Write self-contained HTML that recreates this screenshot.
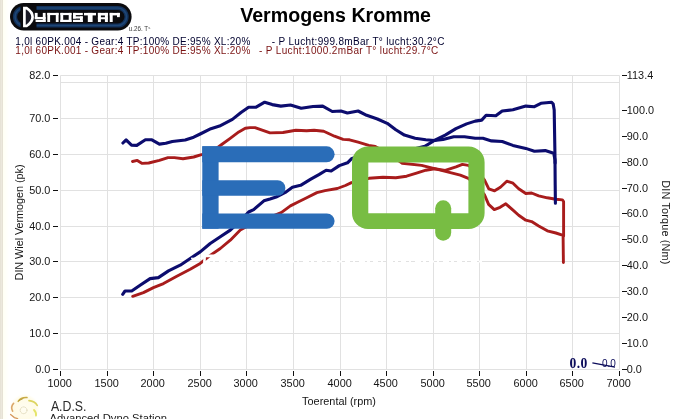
<!DOCTYPE html>
<html><head><meta charset="utf-8"><style>
html,body{margin:0;padding:0;background:#fff;}
body{width:687px;height:419px;overflow:hidden;position:relative;font-family:"Liberation Sans",sans-serif;}
svg{position:absolute;left:0;top:0;will-change:transform;}
.t{font-family:"Liberation Sans",sans-serif;font-size:10.9px;fill:#151515;}
</style></head><body>
<svg width="687" height="419" viewBox="0 0 687 419">
<defs>
<linearGradient id="ls" x1="0" x2="1" y1="0" y2="0"><stop offset="0" stop-color="#fffff3"/><stop offset="1" stop-color="#ffffff"/></linearGradient>
</defs>
<rect x="0" y="0" width="687" height="419" fill="#fff"/>
<rect x="0" y="0" width="1" height="419" fill="#e7e3d6"/><rect x="1" y="0" width="1" height="419" fill="#ece8dd"/><rect x="2" y="0" width="1" height="419" fill="#e6e2d5"/><rect x="3" y="0" width="6" height="419" fill="url(#ls)"/>
<!-- grid -->
<line x1="60.5" y1="75.5" x2="60.5" y2="369.5" stroke="#e1e1e1" stroke-width="1"/><line x1="107.5" y1="75.5" x2="107.5" y2="369.5" stroke="#e1e1e1" stroke-width="1"/><line x1="153.5" y1="75.5" x2="153.5" y2="369.5" stroke="#e1e1e1" stroke-width="1"/><line x1="200.5" y1="75.5" x2="200.5" y2="369.5" stroke="#e1e1e1" stroke-width="1"/><line x1="246.5" y1="75.5" x2="246.5" y2="369.5" stroke="#e1e1e1" stroke-width="1"/><line x1="293.5" y1="75.5" x2="293.5" y2="369.5" stroke="#e1e1e1" stroke-width="1"/><line x1="340.5" y1="75.5" x2="340.5" y2="369.5" stroke="#e1e1e1" stroke-width="1"/><line x1="386.5" y1="75.5" x2="386.5" y2="369.5" stroke="#e1e1e1" stroke-width="1"/><line x1="433.5" y1="75.5" x2="433.5" y2="369.5" stroke="#e1e1e1" stroke-width="1"/><line x1="479.5" y1="75.5" x2="479.5" y2="369.5" stroke="#e1e1e1" stroke-width="1"/><line x1="526.5" y1="75.5" x2="526.5" y2="369.5" stroke="#e1e1e1" stroke-width="1"/><line x1="572.5" y1="75.5" x2="572.5" y2="369.5" stroke="#e1e1e1" stroke-width="1"/><line x1="619.5" y1="75.5" x2="619.5" y2="369.5" stroke="#e1e1e1" stroke-width="1"/><line x1="60.5" y1="369.5" x2="619.5" y2="369.5" stroke="#e1e1e1" stroke-width="1"/><line x1="60.5" y1="333.5" x2="619.5" y2="333.5" stroke="#e1e1e1" stroke-width="1"/><line x1="60.5" y1="297.5" x2="619.5" y2="297.5" stroke="#e1e1e1" stroke-width="1"/><line x1="60.5" y1="261.5" x2="619.5" y2="261.5" stroke="#e1e1e1" stroke-width="1"/><line x1="60.5" y1="226.5" x2="619.5" y2="226.5" stroke="#e1e1e1" stroke-width="1"/><line x1="60.5" y1="190.5" x2="619.5" y2="190.5" stroke="#e1e1e1" stroke-width="1"/><line x1="60.5" y1="154.5" x2="619.5" y2="154.5" stroke="#e1e1e1" stroke-width="1"/><line x1="60.5" y1="118.5" x2="619.5" y2="118.5" stroke="#e1e1e1" stroke-width="1"/><line x1="60.5" y1="82.5" x2="619.5" y2="82.5" stroke="#e1e1e1" stroke-width="1"/><line x1="60.5" y1="75.5" x2="619.5" y2="75.5" stroke="#e1e1e1" stroke-width="1"/>
<!-- white watermark dashes over the 30 gridline -->
<g stroke="#fff" stroke-width="2">
<line x1="205" y1="261.5" x2="485" y2="261.5" stroke-dasharray="5 3 2 4 6 2 3 3"/>
</g>
<!-- curves -->
<polyline points="132.5,161.5 137.3,160.4 142.2,163.4 148.7,163.0 159.4,160.4 168.0,157.6 174.4,157.6 183.0,158.7 193.7,157.0 202.3,154.4 213.1,150.8 221.7,144.5 230.2,138.3 238.8,131.9 245.3,128.2 250.0,127.6 255.0,127.6 270.0,132.9 283.0,132.5 295.8,130.2 306.6,130.8 314.1,130.2 323.7,131.2 334.5,136.2 343.1,139.4 349.5,139.8 358.1,142.2 368.8,145.4 375.3,146.5 385.0,152.0 395.0,158.0 402.3,163.3 421.6,165.4 434.5,168.7 447.4,171.9 460.3,175.1 468.4,178.3 476.0,185.0 484.3,194.4 488.6,204.4 494.3,209.6 500.1,207.3 505.8,203.8 513.0,210.1 518.7,215.3 525.8,220.2 531.6,221.6 538.7,225.9 547.3,230.8 555.9,233.0 563.1,235.3 563.4,262.5" fill="none" stroke="#a81c1c" stroke-width="2.9" stroke-linejoin="round" stroke-linecap="round"/>
<polyline points="132.7,296.3 143.4,292.6 153.4,287.6 163.5,283.6 176.8,276.2 190.2,269.2 200.2,263.4 210.2,255.4 220.3,248.5 230.3,240.2 240.3,230.1 255.0,222.0 270.0,217.0 281.2,212.6 290.4,205.9 298.6,201.8 306.7,197.7 316.9,192.6 325.0,190.6 337.3,188.5 345.4,185.5 351.5,182.6 369.0,178.3 383.0,177.2 395.8,177.7 406.6,176.2 417.3,172.9 425.9,170.2 434.5,168.7 445.2,170.4 456.0,166.9 462.4,164.4 468.4,165.4 476.0,170.0 484.3,179.6 488.8,188.8 494.6,190.8 500.4,187.2 506.8,181.2 513.0,183.2 518.7,188.7 525.8,193.5 531.6,193.0 538.7,195.8 547.3,197.8 555.9,199.3 562.4,199.9 563.6,201.5 563.6,235.9" fill="none" stroke="#a81c1c" stroke-width="2.9" stroke-linejoin="round" stroke-linecap="round"/>
<polyline points="122.9,143.0 126.1,139.8 131.5,145.2 136.8,145.4 145.4,139.8 151.9,139.8 159.4,144.1 165.8,143.3 172.3,141.5 185.2,140.0 193.7,137.2 200.2,134.0 210.9,128.7 219.5,126.1 232.4,119.4 241.0,112.5 248.6,107.2 256.1,107.2 264.7,102.2 272.2,104.6 280.8,106.1 290.5,105.0 301.2,108.3 313.0,106.5 322.7,106.1 332.3,111.5 340.9,111.0 347.4,113.0 358.1,111.0 366.7,115.3 377.4,119.0 387.2,123.3 395.8,129.7 404.4,135.1 415.1,138.3 425.8,139.8 434.4,140.5 443.0,139.4 453.7,136.8 464.5,136.8 475.2,138.3 482.9,138.3 491.5,140.9 502.2,141.5 512.9,145.4 525.8,148.4 534.4,151.2 545.2,150.6 553.7,153.3 555.0,160.0 555.2,185.0 555.4,203.2" fill="none" stroke="#0c0c6e" stroke-width="3.1" stroke-linejoin="round" stroke-linecap="round"/>
<polyline points="122.7,294.3 125.0,291.0 131.7,291.0 140.1,285.3 150.1,278.6 158.4,277.6 168.5,270.9 180.2,265.2 190.2,258.5 200.2,251.9 210.2,243.5 220.3,236.8 230.3,230.1 240.0,221.0 248.6,212.0 253.7,209.6 263.9,200.8 270.0,199.0 276.1,197.0 285.3,192.4 292.4,187.3 300.6,185.3 310.8,179.2 318.9,174.6 326.1,170.2 331.2,171.0 339.3,165.6 347.5,162.8 351.4,158.8 365.0,154.0 380.0,152.0 395.0,151.0 410.0,150.0 424.8,146.3 434.4,140.5 445.2,135.1 455.9,128.7 466.6,123.9 475.2,121.1 481.7,120.1 486.1,115.3 495.8,115.8 502.2,111.0 512.9,109.8 525.8,106.1 534.4,106.7 540.9,103.3 551.6,102.2 553.2,104.0 554.2,110.0 554.7,140.0 555.1,163.0" fill="none" stroke="#0c0c6e" stroke-width="3.1" stroke-linejoin="round" stroke-linecap="round"/>
<!-- white watermark bits over curves -->
<g stroke="#fff" fill="none"><line x1="204.7" y1="254.5" x2="204.3" y2="265" stroke-width="2.6"/><line x1="204" y1="255.9" x2="216" y2="255.9" stroke-width="2.8"/><line x1="191" y1="258.3" x2="203" y2="258.3" stroke-width="1.2"/></g>
<!-- EQ logo -->
<g fill="#2a6db8">
<rect x="202.3" y="146.3" width="16.3" height="82.4"/>
<path d="M202.3 146.3H326.6a8 8 0 0 1 0 16H202.3z"/>
<path d="M202.3 180.2H277.6a7.8 7.8 0 0 1 0 15.6H202.3z"/>
<path d="M202.3 213.4H326.9a7.7 7.7 0 0 1 0 15.4H202.3z"/>
</g>
<g>
<path fill="#78bd43" fill-rule="evenodd" d="M368 146.4H468.6a16 16 0 0 1 16 16V213a16 16 0 0 1 -16 16H368a16 16 0 0 1 -16 -16V162.4a16 16 0 0 1 16 -16zM368.3 162.4V213.2H468.4V162.4z"/>
<rect x="435.2" y="200.3" width="16" height="40.4" rx="8" ry="8" fill="#78bd43"/>
</g>
<!-- axis labels -->
<line x1="60.5" y1="371" x2="60.5" y2="376" stroke="#111" stroke-width="1"/><text transform="translate(59.65,387) scale(1,1.07)" text-anchor="middle" class="t">1000</text><line x1="107.5" y1="371" x2="107.5" y2="376" stroke="#111" stroke-width="1"/><text transform="translate(106.65,387) scale(1,1.07)" text-anchor="middle" class="t">1500</text><line x1="153.5" y1="371" x2="153.5" y2="376" stroke="#111" stroke-width="1"/><text transform="translate(152.65,387) scale(1,1.07)" text-anchor="middle" class="t">2000</text><line x1="200.5" y1="371" x2="200.5" y2="376" stroke="#111" stroke-width="1"/><text transform="translate(199.65,387) scale(1,1.07)" text-anchor="middle" class="t">2500</text><line x1="246.5" y1="371" x2="246.5" y2="376" stroke="#111" stroke-width="1"/><text transform="translate(245.65,387) scale(1,1.07)" text-anchor="middle" class="t">3000</text><line x1="293.5" y1="371" x2="293.5" y2="376" stroke="#111" stroke-width="1"/><text transform="translate(292.65,387) scale(1,1.07)" text-anchor="middle" class="t">3500</text><line x1="340.5" y1="371" x2="340.5" y2="376" stroke="#111" stroke-width="1"/><text transform="translate(339.65,387) scale(1,1.07)" text-anchor="middle" class="t">4000</text><line x1="386.5" y1="371" x2="386.5" y2="376" stroke="#111" stroke-width="1"/><text transform="translate(385.65,387) scale(1,1.07)" text-anchor="middle" class="t">4500</text><line x1="433.5" y1="371" x2="433.5" y2="376" stroke="#111" stroke-width="1"/><text transform="translate(432.65,387) scale(1,1.07)" text-anchor="middle" class="t">5000</text><line x1="479.5" y1="371" x2="479.5" y2="376" stroke="#111" stroke-width="1"/><text transform="translate(478.65,387) scale(1,1.07)" text-anchor="middle" class="t">5500</text><line x1="526.5" y1="371" x2="526.5" y2="376" stroke="#111" stroke-width="1"/><text transform="translate(525.65,387) scale(1,1.07)" text-anchor="middle" class="t">6000</text><line x1="572.5" y1="371" x2="572.5" y2="376" stroke="#111" stroke-width="1"/><text transform="translate(571.65,387) scale(1,1.07)" text-anchor="middle" class="t">6500</text><line x1="619.5" y1="371" x2="619.5" y2="376" stroke="#111" stroke-width="1"/><text transform="translate(618.65,387) scale(1,1.07)" text-anchor="middle" class="t">7000</text><line x1="53" y1="369.5" x2="58" y2="369.5" stroke="#111" stroke-width="1"/><text transform="translate(50.4,373.0) scale(1,1.07)" text-anchor="end" class="t">0.0</text><line x1="53" y1="333.5" x2="58" y2="333.5" stroke="#111" stroke-width="1"/><text transform="translate(50.4,337.0) scale(1,1.07)" text-anchor="end" class="t">10.0</text><line x1="53" y1="297.5" x2="58" y2="297.5" stroke="#111" stroke-width="1"/><text transform="translate(50.4,301.0) scale(1,1.07)" text-anchor="end" class="t">20.0</text><line x1="53" y1="261.5" x2="58" y2="261.5" stroke="#111" stroke-width="1"/><text transform="translate(50.4,265.0) scale(1,1.07)" text-anchor="end" class="t">30.0</text><line x1="53" y1="226.5" x2="58" y2="226.5" stroke="#111" stroke-width="1"/><text transform="translate(50.4,230.0) scale(1,1.07)" text-anchor="end" class="t">40.0</text><line x1="53" y1="190.5" x2="58" y2="190.5" stroke="#111" stroke-width="1"/><text transform="translate(50.4,194.0) scale(1,1.07)" text-anchor="end" class="t">50.0</text><line x1="53" y1="154.5" x2="58" y2="154.5" stroke="#111" stroke-width="1"/><text transform="translate(50.4,158.0) scale(1,1.07)" text-anchor="end" class="t">60.0</text><line x1="53" y1="118.5" x2="58" y2="118.5" stroke="#111" stroke-width="1"/><text transform="translate(50.4,122.0) scale(1,1.07)" text-anchor="end" class="t">70.0</text><line x1="53" y1="75.5" x2="58" y2="75.5" stroke="#111" stroke-width="1"/><text transform="translate(50.4,79.0) scale(1,1.07)" text-anchor="end" class="t">82.0</text><line x1="622" y1="369.5" x2="627" y2="369.5" stroke="#111" stroke-width="1"/><text transform="translate(626.8,373.0) scale(1,1.07)" class="t">0.0</text><line x1="622" y1="343.5" x2="627" y2="343.5" stroke="#111" stroke-width="1"/><text transform="translate(626.8,347.0) scale(1,1.07)" class="t">10.0</text><line x1="622" y1="317.5" x2="627" y2="317.5" stroke="#111" stroke-width="1"/><text transform="translate(626.8,321.0) scale(1,1.07)" class="t">20.0</text><line x1="622" y1="291.5" x2="627" y2="291.5" stroke="#111" stroke-width="1"/><text transform="translate(626.8,295.0) scale(1,1.07)" class="t">30.0</text><line x1="622" y1="265.5" x2="627" y2="265.5" stroke="#111" stroke-width="1"/><text transform="translate(626.8,269.0) scale(1,1.07)" class="t">40.0</text><line x1="622" y1="239.5" x2="627" y2="239.5" stroke="#111" stroke-width="1"/><text transform="translate(626.8,243.0) scale(1,1.07)" class="t">50.0</text><line x1="622" y1="213.5" x2="627" y2="213.5" stroke="#111" stroke-width="1"/><text transform="translate(626.8,217.0) scale(1,1.07)" class="t">60.0</text><line x1="622" y1="188.5" x2="627" y2="188.5" stroke="#111" stroke-width="1"/><text transform="translate(626.8,192.0) scale(1,1.07)" class="t">70.0</text><line x1="622" y1="162.5" x2="627" y2="162.5" stroke="#111" stroke-width="1"/><text transform="translate(626.8,166.0) scale(1,1.07)" class="t">80.0</text><line x1="622" y1="136.5" x2="627" y2="136.5" stroke="#111" stroke-width="1"/><text transform="translate(626.8,140.0) scale(1,1.07)" class="t">90.0</text><line x1="622" y1="110.5" x2="627" y2="110.5" stroke="#111" stroke-width="1"/><text transform="translate(626.8,114.0) scale(1,1.07)" class="t">100.0</text><line x1="622" y1="75.5" x2="627" y2="75.5" stroke="#111" stroke-width="1"/><text transform="translate(626.8,79.0) scale(1,1.07)" class="t">113.4</text>
<text x="339" y="404.5" text-anchor="middle" class="t">Toerental (rpm)</text>
<text transform="translate(22.7,280.4) rotate(-90)" textLength="116" lengthAdjust="spacing" class="t">DIN Wiel Vermogen (pk)</text>
<text transform="translate(661.8,180.2) rotate(90)" textLength="84.3" lengthAdjust="spacing" class="t">DIN Torque (Nm)</text>
<!-- title -->
<text x="240.2" y="21.7" textLength="190.8" lengthAdjust="spacingAndGlyphs" style="font-family:'Liberation Sans',sans-serif;font-weight:bold;font-size:20px;fill:#000">Vermogens Kromme</text>
<!-- legend lines -->
<g style="font-family:'Liberation Sans',sans-serif;font-size:10px;fill:#00002e">
<text x="15.3" y="44.9" textLength="235" lengthAdjust="spacing">1,0l 60PK.004 - Gear:4 TP:100% DE:95% XL:20%</text>
<text x="271.8" y="44.9" textLength="172.6" lengthAdjust="spacing">- P Lucht:999.8mBar T° lucht:30.2°C</text>
</g>
<g style="font-family:'Liberation Sans',sans-serif;font-size:10px;fill:#7a1212">
<text x="15.3" y="53.9" textLength="235" lengthAdjust="spacing">1,0l 60PK.001 - Gear:4 TP:100% DE:95% XL:20%</text>
<text x="259" y="53.9" textLength="179.2" lengthAdjust="spacing">- P Lucht:1000.2mBar T° lucht:29.7°C</text>
</g>
<!-- Dynostar logo -->
<g id="dyno">
<rect x="10" y="3" width="121.6" height="27.5" rx="13.75" fill="#0b0b0e"/>
<rect x="15" y="8" width="111.6" height="17.5" rx="8.75" fill="none" stroke="#13315a" stroke-width="4.2"/>
<rect x="15" y="8" width="111.6" height="17.5" rx="8.75" fill="none" stroke="#1d4676" stroke-width="1.6"/>
<rect x="20.5" y="5" width="16" height="23.5" fill="#0b0b0e"/>
<path d="M24.4 8.1H26.6Q32.6 12 32.6 17Q32.6 22 26.6 26H24.4Z" fill="#1a1a26" stroke="#fff" stroke-width="2.7" stroke-linejoin="miter"/>
<g fill="#fff"><rect x="34.80" y="12.90" width="2.80" height="6.25"/><rect x="34.80" y="16.95" width="10.80" height="2.20"/><rect x="42.80" y="12.90" width="2.80" height="9.10"/><rect x="35.60" y="19.80" width="10.00" height="2.20"/><rect x="47.30" y="12.90" width="11.30" height="2.20"/><rect x="47.30" y="12.90" width="2.80" height="9.10"/><rect x="55.80" y="12.90" width="2.80" height="9.10"/><rect x="60.40" y="12.90" width="11.10" height="2.20"/><rect x="60.40" y="19.80" width="11.10" height="2.20"/><rect x="60.40" y="12.90" width="2.80" height="9.10"/><rect x="68.70" y="12.90" width="2.80" height="9.10"/><rect x="73.00" y="12.90" width="9.80" height="2.20"/><rect x="73.00" y="16.35" width="9.80" height="2.20"/><rect x="73.00" y="19.80" width="9.80" height="2.20"/><rect x="73.00" y="12.90" width="2.80" height="5.65"/><rect x="80.00" y="16.35" width="2.80" height="5.65"/><rect x="84.00" y="12.90" width="12.00" height="2.50"/><rect x="87.80" y="12.90" width="4.80" height="9.10"/><rect x="97.90" y="12.90" width="10.00" height="2.60"/><rect x="97.90" y="12.90" width="3.00" height="9.10"/><rect x="104.90" y="12.90" width="3.00" height="9.10"/><rect x="97.90" y="17.25" width="10.00" height="2.00"/><rect x="109.70" y="12.90" width="10.10" height="2.50"/><rect x="109.70" y="12.90" width="3.00" height="9.10"/><rect x="117.00" y="12.90" width="2.80" height="4.25"/></g>
<text x="128.8" y="30.7" textLength="21.5" lengthAdjust="spacingAndGlyphs" style="font-family:'Liberation Sans',sans-serif;font-size:6.5px;fill:#3a3a3a">u.26. T&#x2E2;</text>
</g>
<!-- bottom right 0.0 -->
<text x="569.6" y="367.9" style="font-family:'Liberation Serif',serif;font-weight:bold;font-size:13.6px;fill:#0b0b5a;letter-spacing:0.3px">0.0</text>
<text x="602" y="367" style="font-family:'Liberation Sans',sans-serif;font-size:10px;fill:#0b0b5a">0.0</text>
<line x1="592.4" y1="362.9" x2="615" y2="367.2" stroke="#0b0b5a" stroke-width="1.3"/>
<!-- ADS -->
<defs><radialGradient id="glow"><stop offset="0" stop-color="#fffdf2"/><stop offset="0.75" stop-color="#fffbe6"/><stop offset="1" stop-color="#ffffff"/></radialGradient></defs>
<circle cx="24.5" cy="409" r="15" fill="url(#glow)"/>
<g fill="none" stroke-linecap="round">
<path d="M12.6 411.2C11 408 12 405 13.6 403.4" stroke="#dba86a" stroke-width="1.6"/>
<path d="M18.2 401.4C20 398.6 24 397.4 27 397.6" stroke="#c9ab45" stroke-width="1.5"/>
<path d="M19 400.6L23 398.6" stroke="#b89a3a" stroke-width="1"/>
<path d="M29 400.6C32 400.8 35.6 402.6 37.2 405.4" stroke="#dcd460" stroke-width="1.7"/>
<path d="M34 410C35.6 411.6 36.4 413.6 36 415.6" stroke="#e4e468" stroke-width="1.8"/>
<path d="M10.6 414.4L14.4 417.6L17.6 418.6" stroke="#d69a5c" stroke-width="1.3"/>
<circle cx="23.6" cy="410.3" r="3.4" stroke="#d9d2ae" stroke-width="0.8" stroke-dasharray="1 1.2"/>
</g>
<text x="50.9" y="410.7" textLength="35.6" lengthAdjust="spacingAndGlyphs" style="font-family:'Liberation Sans',sans-serif;font-size:14.4px;fill:#2a2a2a">A.D.S.</text>
<text x="49.6" y="421.6" textLength="117.5" lengthAdjust="spacingAndGlyphs" style="font-family:'Liberation Sans',sans-serif;font-size:11.8px;fill:#1a1a1a">Advanced Dyno Station</text>
</svg>
</body></html>
